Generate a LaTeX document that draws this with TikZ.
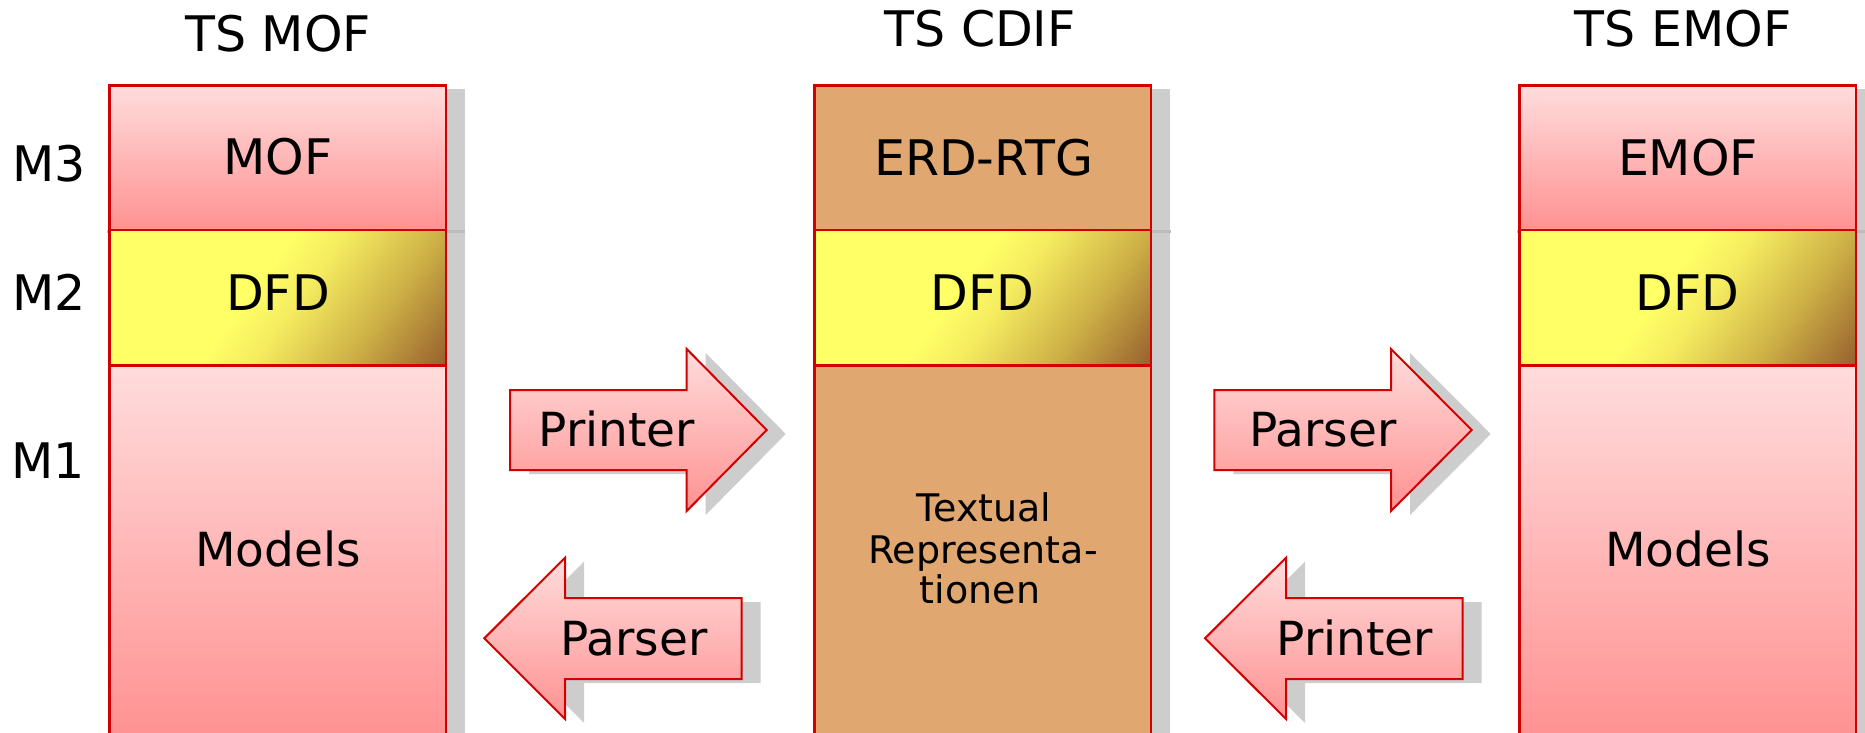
\documentclass[tikz,border=0pt]{standalone}
\usepackage{fontspec}
\setmainfont{DejaVu Sans}
\definecolor{pinkT}{RGB}{255,220,220}
\definecolor{pinkB}{RGB}{255,145,145}
\definecolor{cdiftan}{RGB}{224,168,112}
\definecolor{bord}{RGB}{210,0,0}
\definecolor{shad}{RGB}{205,205,205}
\definecolor{shadline}{RGB}{188,188,188}
\definecolor{dY}{RGB}{255,255,102}
\definecolor{dA}{RGB}{245,236,96}
\definecolor{dB}{RGB}{205,176,70}
\definecolor{dC}{RGB}{150,95,45}
\pgfdeclarehorizontalshading{dfdshade}{100bp}{color(0bp)=(dY); color(46.5bp)=(dY); color(52.5bp)=(dA); color(63.5bp)=(dB); color(75bp)=(dC); color(100bp)=(dC)}
\newcommand\dfdfill[1]{%
  \begin{scope}
    \clip (#1,230) rectangle ++(336.7,135.7);
    \begin{scope}[transform canvas={rotate around={-36:(#1+168.35,297.85)}}]
      \shade[shading=dfdshade] (#1+168.35-176,297.85-220) rectangle (#1+168.35+176,297.85+220);
    \end{scope}
  \end{scope}}
\newcommand\colshadow[1]{%
  \fill[shad] (#1+19,88.7) rectangle (#1+355.7,233);
  \fill[shad] (#1+19,233) rectangle (#1+355.7,368.7);
  \fill[shad] (#1+19,368.7) rectangle (#1+355.7,745);
  \draw[shadline, line width=3pt] (#1-2,231) -- (#1+356,231);}
\begin{document}
\begin{tikzpicture}[x=1pt,y=-1pt,
  box/.style={draw=bord, line width=2.5pt, rectangle, inner sep=0pt, outer sep=0pt,
    minimum width=336.7pt, anchor=north west},
  pinkbox/.style={box, top color=pinkT, bottom color=pinkB},
  tanbox/.style={box, fill=cdiftan},
  dfdbox/.style={box},
  big/.style={font=\fontsize{49pt}{58pt}\selectfont, inner sep=0pt, anchor=base},
  mid/.style={font=\fontsize{47pt}{56pt}\selectfont, inner sep=0pt, anchor=base},
  small/.style={font=\fontsize{38pt}{41pt}\selectfont, inner sep=0pt, anchor=base},
  arr/.style={draw=bord, line width=2pt, line join=miter, top color=pinkT, bottom color=pinkB},
  arrshadow/.style={fill=shad, shift={(19,4)}}
]
\useasboundingbox (0,0) rectangle (1865,733);
\clip (0,0) rectangle (1865,733);

% shadows of the columns
\colshadow{109.3}
\colshadow{814.5}
\colshadow{1519.3}

% left column
\node[pinkbox, minimum height=144.3pt] (mofM3) at (109.3,85.7) {};
\dfdfill{109.3}
\node[dfdbox, minimum height=135.7pt] (mofM2) at (109.3,230) {};
\node[pinkbox, minimum height=374.3pt] (mofM1) at (109.3,365.7) {};

% middle column
\node[tanbox, minimum height=144.3pt] (cdifM3) at (814.5,85.7) {};
\dfdfill{814.5}
\node[dfdbox, minimum height=135.7pt] (cdifM2) at (814.5,230) {};
\node[tanbox, minimum height=374.3pt] (cdifM1) at (814.5,365.7) {};

% right column
\node[pinkbox, minimum height=144.3pt] (emofM3) at (1519.3,85.7) {};
\dfdfill{1519.3}
\node[dfdbox, minimum height=135.7pt] (emofM2) at (1519.3,230) {};
\node[pinkbox, minimum height=374.3pt] (emofM1) at (1519.3,365.7) {};

% titles
\node[big] (tmof) at (278,52) {TS MOF};
\node[big] (tcdif) at (980,46.7) {TS CDIF};
\node[big] (temof) at (1683,46.7) {TS EMOF};

% level labels
\node[big] (l3) at (49,181.7) {M3};
\node[big] (l2) at (49,310) {M2};
\node[big] (l1) at (48,478.3) {M1};

% box texts
\node[big] (xmof) at (278,174) {MOF};
\node[big] (xdfd1) at (278,310) {DFD};
\node[mid] (xmod1) at (278,566.7) {Models};
\node[big] (xerd) at (983.5,175) {ERD-RTG};
\node[big] (xdfd2) at (982.5,310) {DFD};
\node[small] (xtx1) at (984,521.7) {Textual};
\node[small] (xtx2) at (983,563.3) {Representa-};
\node[small] (xtx3) at (980,603.3) {tionen};
\node[big] (xemof) at (1688,175) {EMOF};
\node[big] (xdfd3) at (1687.7,310) {DFD};
\node[mid] (xmod3) at (1688,566.7) {Models};

% arrow shadows
\fill[arrshadow] (510,390) -- (686.7,390) -- (686.7,349) -- (766.7,430) -- (686.7,511) -- (686.7,470) -- (510,470) -- cycle;
\fill[arrshadow] (1214.3,390) -- (1391,390) -- (1391,349) -- (1471.7,430) -- (1391,511) -- (1391,470) -- (1214.3,470) -- cycle;
\fill[arrshadow] (741.7,598) -- (565,598) -- (565,557.7) -- (484.3,638.3) -- (565,719) -- (565,679) -- (741.7,679) -- cycle;
\fill[arrshadow] (1462.7,598) -- (1286,598) -- (1286,557.7) -- (1205,638.3) -- (1286,719) -- (1286,679) -- (1462.7,679) -- cycle;

% arrows
\path[arr] (510,390) -- (686.7,390) -- (686.7,349) -- (766.7,430) -- (686.7,511) -- (686.7,470) -- (510,470) -- cycle;
\path[arr] (1214.3,390) -- (1391,390) -- (1391,349) -- (1471.7,430) -- (1391,511) -- (1391,470) -- (1214.3,470) -- cycle;
\path[arr] (741.7,598) -- (565,598) -- (565,557.7) -- (484.3,638.3) -- (565,719) -- (565,679) -- (741.7,679) -- cycle;
\path[arr] (1462.7,598) -- (1286,598) -- (1286,557.7) -- (1205,638.3) -- (1286,719) -- (1286,679) -- (1462.7,679) -- cycle;

% arrow labels
\node[mid] (ap1) at (616.7,446) {Printer};
\node[mid] (ap2) at (1323,446) {Parser};
\node[mid] (ap3) at (634,655) {Parser};
\node[mid] (ap4) at (1355,655) {Printer};
\end{tikzpicture}
\end{document}
